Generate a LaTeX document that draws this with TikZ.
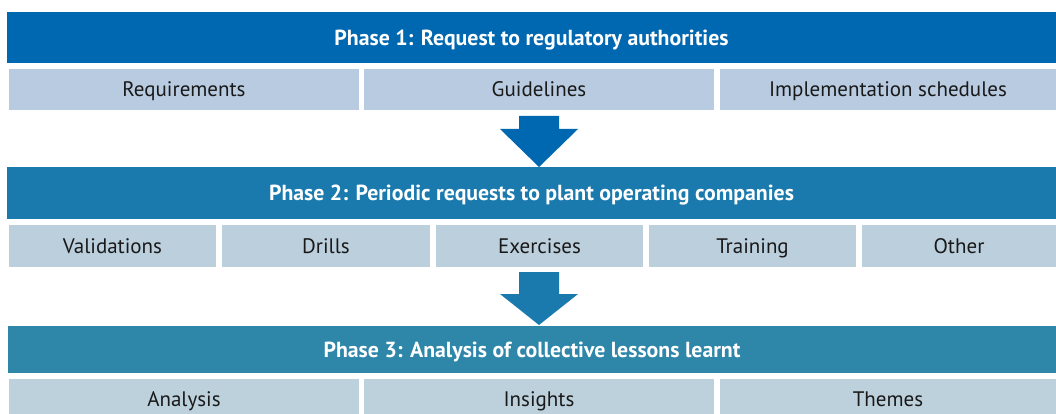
\documentclass[tikz,border=0pt]{standalone}
\usepackage{fontspec}
\setmainfont{PT Sans}
\definecolor{pone}{RGB}{0,103,177}
\definecolor{ptwo}{RGB}{26,122,174}
\definecolor{pthree}{RGB}{46,134,168}
\definecolor{sone}{RGB}{184,203,224}
\definecolor{stwo}{RGB}{188,207,221}
\definecolor{sthree}{RGB}{189,209,220}
\tikzset{
  phasebar/.style={inner sep=0pt, outer sep=0pt, anchor=north west, text=white, text height=16pt, text depth=0.7pt, font=\fontsize{21.8}{24}\selectfont\bfseries},
  subbox/.style={inner sep=0pt, outer sep=0pt, anchor=north west, text=black!90, text height=15.4pt, text depth=0.7pt, font=\fontsize{21}{24}\selectfont}
}
\begin{document}
\begin{tikzpicture}[x=1pt,y=-1pt]
\useasboundingbox (0,0) rectangle (1056,414);
% Phase 1
\node[phasebar, fill=pone, minimum width=1049pt, minimum height=51pt] (p1) at (7,12) {Phase 1: Request to regulatory authorities};
\node[subbox, fill=sone, minimum width=350pt, minimum height=41pt] (req) at (9,69) {Requirements};
\node[subbox, fill=sone, minimum width=350pt, minimum height=41pt] (gui) at (364,69) {Guidelines};
\node[subbox, fill=sone, minimum width=336pt, minimum height=41pt] (imp) at (720,69) {Implementation schedules};
% Arrow 1
\fill[pone] (519,116) -- (559,116) -- (559,129) -- (578,129) -- (539,167) -- (500,129) -- (519,129) -- cycle;
% Phase 2
\node[phasebar, fill=ptwo, minimum width=1049pt, minimum height=52pt] (p2) at (7,167) {Phase 2: Periodic requests to plant operating companies};
\node[subbox, fill=stwo, minimum width=207pt, minimum height=42pt] (val) at (9,225) {Validations};
\node[subbox, fill=stwo, minimum width=208pt, minimum height=42pt] (dri) at (222,225) {Drills};
\node[subbox, fill=stwo, minimum width=207pt, minimum height=42pt] (exe) at (436,225) {Exercises};
\node[subbox, fill=stwo, minimum width=207pt, minimum height=42pt] (tra) at (649,225) {Training};
\node[subbox, fill=stwo, minimum width=194pt, minimum height=42pt] (oth) at (862,225) {Other};
% Arrow 2
\fill[ptwo] (519,272) -- (559,272) -- (559,294) -- (578,294) -- (539,325) -- (500,294) -- (519,294) -- cycle;
% Phase 3
\node[phasebar, fill=pthree, minimum width=1048pt, minimum height=47pt] (p3) at (8,326) {Phase 3: Analysis of collective lessons learnt};
\node[subbox, fill=sthree, minimum width=350pt, minimum height=41pt] (ana) at (9,379) {Analysis};
\node[subbox, fill=sthree, minimum width=350pt, minimum height=41pt] (ins) at (364,379) {Insights};
\node[subbox, fill=sthree, minimum width=336pt, minimum height=41pt] (the) at (720,379) {Themes};
\end{tikzpicture}
\end{document}
